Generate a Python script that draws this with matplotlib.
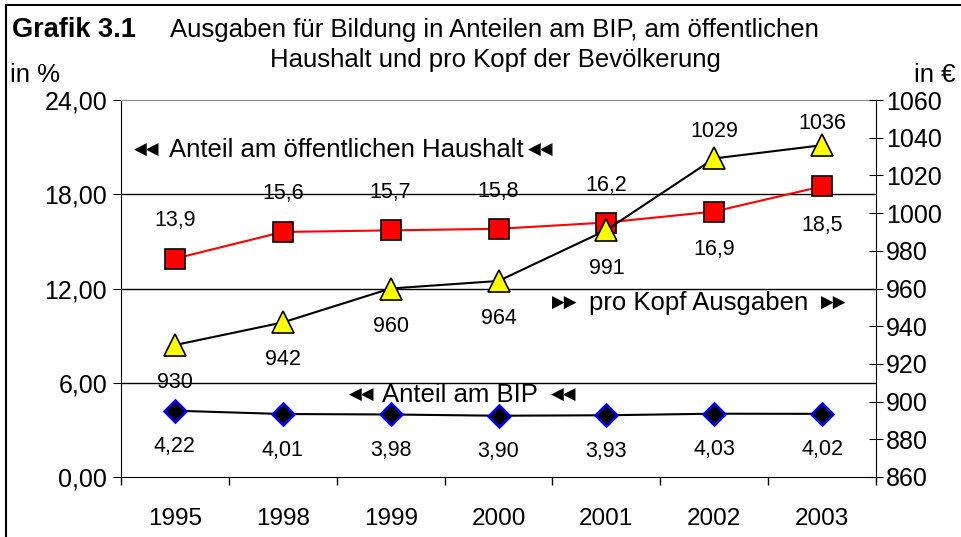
import matplotlib
matplotlib.use("Agg")
import matplotlib.pyplot as plt
from matplotlib.patches import Rectangle
from matplotlib.ticker import FuncFormatter, MultipleLocator, FixedLocator

plt.rcParams['font.family'] = ['Liberation Sans', 'DejaVu Sans']

# data
years = ['1995', '1998', '1999', '2000', '2001', '2002', '2003']
bip = [4.22, 4.01, 3.98, 3.90, 3.93, 4.03, 4.02]
haushalt = [13.9, 15.6, 15.7, 15.8, 16.2, 16.9, 18.5]
pro_kopf = [930, 942, 960, 964, 991, 1029, 1036]

# label offsets in pixels (above > 0, below < 0)
off_haushalt = [38, 38, 38, 37, 37, -38, -39]
off_kopf = [-37, -37, -38, -38, -38, 27, 22]
off_bip = [-36] * 7

W, H = 961, 537
fig = plt.figure(figsize=(W / 100, H / 100), dpi=100)
ax = fig.add_axes([121 / W, (H - 477) / H, 755 / W, 377 / H])
ax2 = ax.twinx()

x = list(range(len(years)))

# left axis
ax.set_xlim(-0.5, 6.5)
ax.set_ylim(0, 24)
ax.yaxis.set_major_locator(MultipleLocator(6))
ax.yaxis.set_major_formatter(FuncFormatter(lambda v, p: f"{v:.2f}".replace('.', ',')))
ax.set_xticks(x)
ax.set_xticklabels(years)
ax.xaxis.set_minor_locator(FixedLocator([i + 0.5 for i in range(-1, 7)]))
ax.tick_params(axis='x', which='major', length=0, labelsize=17.5, pad=22)
ax.tick_params(axis='x', which='minor', length=6, direction='out', width=1)
ax.tick_params(axis='y', labelsize=18, length=6, direction='out', pad=4)
for yv in [6, 12, 18]:
    ax.axhline(yv, color='black', lw=1, zorder=1)
ax.spines['top'].set_color('#888888')
ax.spines['right'].set_visible(False)

# right axis
ax2.set_ylim(860, 1060)
ax2.yaxis.set_major_locator(MultipleLocator(20))
ax2.tick_params(axis='y', labelsize=18, length=10, direction='inout', pad=2)
ax2.spines['top'].set_visible(False)
ax2.spines['left'].set_visible(False)
ax2.spines['bottom'].set_visible(False)

# series
ax.plot(x, haushalt, color='red', lw=1.5, marker='s', ms=14.5,
        mfc='red', mec='black', mew=1.2, zorder=4)
ax.plot(x, bip, color='black', lw=1.5, marker='D', ms=11,
        mfc='black', mec='blue', mew=1.8, zorder=4)
ax2.plot(x, pro_kopf, color='black', lw=1.5, marker='^', ms=16,
         mfc='yellow', mec='black', mew=1.2, zorder=4)

for xi, v, o in zip(x, haushalt, off_haushalt):
    ax.annotate(f"{v:.1f}".replace('.', ','), (xi, v), xytext=(0, o),
                textcoords='offset pixels', ha='center', va='center', fontsize=15.5)
for xi, v, o in zip(x, bip, off_bip):
    ax.annotate(f"{v:.2f}".replace('.', ','), (xi, v), xytext=(0, o),
                textcoords='offset pixels', ha='center', va='center', fontsize=15.5)
for xi, v, o in zip(x, pro_kopf, off_kopf):
    ax2.annotate(f"{v}", (xi, v), xytext=(0, o),
                 textcoords='offset pixels', ha='center', va='center', fontsize=15.5)

# series annotations (pixel positions of arrows and text)
def series_note(x0, x1, x2, py, text, arrow):
    tr = ax.transAxes
    y = (477 - py) / 377
    ax.text((x0 - 121) / 755, y, arrow, transform=tr, fontsize=12,
            ha='left', va='center', family='DejaVu Sans')
    ax.text((x1 - 121) / 755, y, text, transform=tr, fontsize=18.5,
            ha='left', va='center')
    ax.text((x2 - 121) / 755, y, arrow, transform=tr, fontsize=12,
            ha='left', va='center', family='DejaVu Sans')

series_note(134, 169, 528, 150, 'Anteil am öffentlichen Haushalt', '\u25C0\u25C0')
series_note(552, 589, 821, 303, 'pro Kopf Ausgaben', '\u25B6\u25B6')
series_note(349, 382, 551, 395, 'Anteil am BIP', '\u25C0\u25C0')

# titles
fig.text(12 / W, 1 - 30 / H, 'Grafik 3.1', fontsize=19.5, fontweight='bold',
         ha='left', va='center')
fig.text(170 / W, 1 - 30 / H, 'Ausgaben für Bildung in Anteilen am BIP, am öffentlichen',
         fontsize=18.5, ha='left', va='center')
fig.text(495 / W, 1 - 60 / H, 'Haushalt und pro Kopf der Bevölkerung',
         fontsize=18.5, ha='center', va='center')
fig.text(10 / W, 1 - 75 / H, 'in %', fontsize=18.5, ha='left', va='center')
fig.text(955 / W, 1 - 75 / H, 'in €', fontsize=18.5, ha='right', va='center')

# outer frame
fig.patches.append(Rectangle((6 / W, -0.05), 1.1, 1 - 5 / H + 0.05,
                             transform=fig.transFigure, fill=False,
                             edgecolor='black', lw=1.5))

fig.savefig('out.png', dpi=100)
